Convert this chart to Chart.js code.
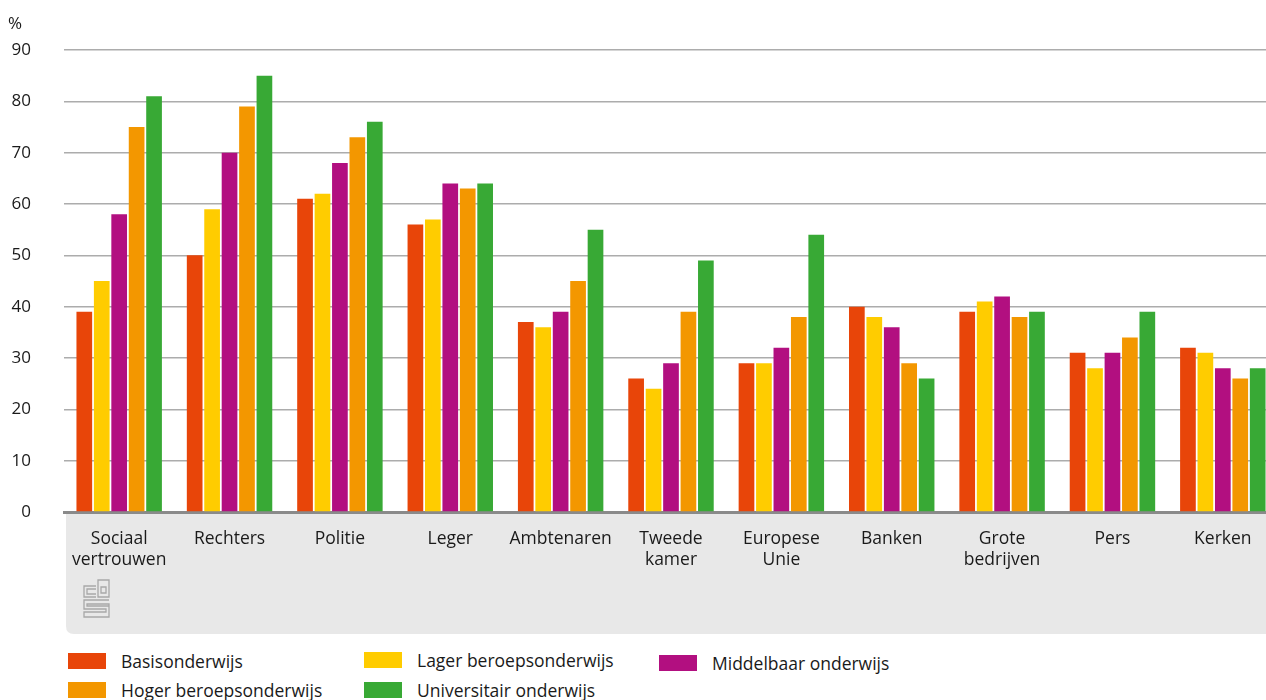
<!DOCTYPE html>
<html>
<head>
<meta charset="utf-8">
<script src="https://cdn.jsdelivr.net/npm/chart.js@4.4.1/dist/chart.umd.min.js"></script>
<style>
  html, body { margin: 0; padding: 0; background: #fff; overflow: hidden; }
  body { width: 1266px; height: 700px; position: relative; font-family: 'Open Sans', sans-serif; color: #1a1a1a; }
  #wrap { position: absolute; left: 0; top: 0; width: 1280px; height: 640px; }
  #unit { position: absolute; left: 8px; top: 11px; font-size: 17px; }
  .lg { position: absolute; font-size: 17.5px; line-height: 22px; }
  .lg i { position: absolute; left: -53px; top: 3px; width: 38px; height: 16px; }
</style>
</head>
<body>
<div id="wrap"><canvas id="chart"></canvas></div>
<div id="unit">%</div>
<div id="legend"></div>
<script>
const categories = [
  ['Sociaal', 'vertrouwen'], 'Rechters', 'Politie', 'Leger', 'Ambtenaren',
  ['Tweede', 'kamer'], ['Europese', 'Unie'], 'Banken', ['Grote', 'bedrijven'], 'Pers', 'Kerken'
];
const seriesNames = ['Basisonderwijs', 'Lager beroepsonderwijs', 'Middelbaar onderwijs', 'Hoger beroepsonderwijs', 'Universitair onderwijs'];
const seriesColors = ['#e84509', '#ffcc00', '#b20f80', '#f39700', '#38a935'];

const basis = [39, 50, 61, 56, 37, 26, 29, 40, 39, 31, 32];
const lager = [45, 59, 62, 57, 36, 24, 29, 38, 41, 28, 31];
const middelbaar = [58, 70, 68, 64, 39, 29, 32, 36, 42, 31, 28];
const hoger = [75, 79, 73, 63, 45, 39, 38, 29, 38, 34, 26];
const universitair = [81, 85, 76, 64, 55, 49, 54, 26, 39, 39, 28];
const yTicks = [0, 10, 20, 30, 40, 50, 60, 70, 80, 90];

const seriesValues = [basis, lager, middelbaar, hoger, universitair];

// grijze band onder de x-as + cbs-logo
const bandPlugin = {
  id: 'band',
  beforeDraw(chart) {
    const { ctx, chartArea } = chart;
    const x0 = chartArea.left + 2, y0 = chartArea.bottom, x1 = chart.width, y1 = 634, r = 8;
    ctx.save();
    ctx.fillStyle = '#e8e8e8';
    ctx.beginPath();
    ctx.moveTo(x0, y0);
    ctx.lineTo(x1, y0);
    ctx.lineTo(x1, y1);
    ctx.lineTo(x0 + r, y1);
    ctx.quadraticCurveTo(x0, y1, x0, y1 - r);
    ctx.closePath();
    ctx.fill();

    // logo
    ctx.strokeStyle = '#a8a8a8';
    ctx.lineWidth = 1.3;
    const lx = 84, ly = 580;
    ctx.beginPath();
    // c
    ctx.moveTo(96, ly + 6); ctx.lineTo(lx, ly + 6); ctx.lineTo(lx, ly + 17); ctx.lineTo(96, ly + 17);
    ctx.moveTo(96, ly + 9); ctx.lineTo(lx + 3, ly + 9); ctx.lineTo(lx + 3, ly + 14); ctx.lineTo(96, ly + 14);
    // b
    ctx.rect(98, ly, 11, 17);
    ctx.rect(101, ly + 7, 5, 6);
    // s
    ctx.moveTo(109, ly + 20); ctx.lineTo(lx, ly + 20); ctx.lineTo(lx, ly + 29); ctx.lineTo(106, ly + 29);
    ctx.lineTo(106, ly + 32); ctx.lineTo(lx, ly + 32); ctx.lineTo(lx, ly + 37); ctx.lineTo(109, ly + 37);
    ctx.lineTo(109, ly + 24); ctx.lineTo(lx + 3, ly + 24); ctx.lineTo(lx + 3, ly + 26); ctx.lineTo(109, ly + 26);
    ctx.stroke();
    ctx.restore();
  }
};

new Chart(document.getElementById('chart'), {
  type: 'bar',
  data: {
    labels: categories,
    datasets: seriesNames.map((name, i) => ({
      label: name,
      data: seriesValues[i],
      backgroundColor: seriesColors[i],
      barPercentage: 0.9,
      categoryPercentage: 0.79,
    })),
  },
  options: {
    responsive: true,
    maintainAspectRatio: false,
    animation: false,
    layout: { padding: { top: 50, right: 2, left: 0, bottom: 0 } },
    plugins: { legend: { display: false }, tooltip: { enabled: false } },
    scales: {
      x: {
        grid: { display: false, drawTicks: false },
        border: { display: true, color: '#8a8a8a', width: 3 },
        ticks: {
          color: '#1a1a1a',
          padding: 17,
          maxRotation: 0,
          autoSkip: false,
          font: { family: 'Open Sans', size: 17.5, lineHeight: 1.2 },
        },
        afterFit: (s) => { s.height = 128; },
      },
      y: {
        min: 0,
        max: 90,
        afterBuildTicks: (s) => { s.ticks = yTicks.map((v) => ({ value: v })); },
        grid: { color: '#acacac', lineWidth: 1.5, drawTicks: false },
        border: { display: false },
        ticks: {
          color: '#1a1a1a',
          padding: 33,
          font: { family: 'Open Sans', size: 17 },
        },
        afterFit: (s) => { s.width = 64; },
      },
    },
  },
  plugins: [bandPlugin],
});

// legenda
const legendPos = [[121, 650], [417, 649], [712, 652], [121, 679], [417, 679]];
document.getElementById('legend').innerHTML = seriesNames.map((n, i) => `
  <div class="lg" style="left:${legendPos[i][0]}px;top:${legendPos[i][1]}px">
    <i style="background:${seriesColors[i]}"></i>${n}
  </div>`).join('');
</script>
</body>
</html>
